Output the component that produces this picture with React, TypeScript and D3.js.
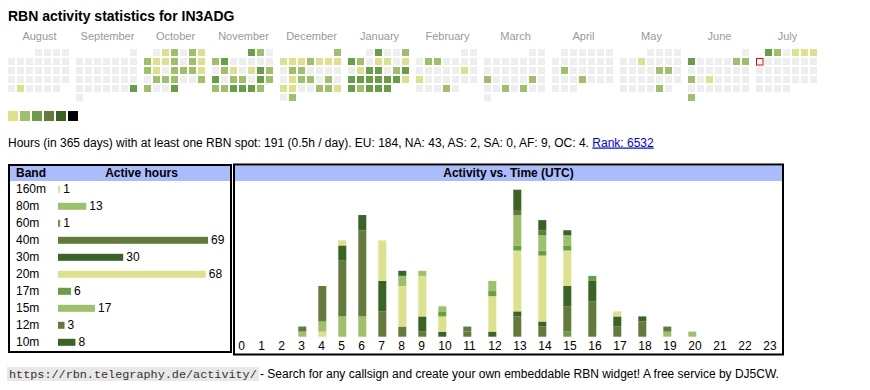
import React from "react";
import * as d3 from "d3";

const title = "RBN activity statistics for IN3ADG";
const monthNames = ["August", "September", "October", "November", "December", "January", "February", "March", "April", "May", "June", "July"];
const monthStarts = ["2024-08-01", "2024-09-01", "2024-10-01", "2024-11-01", "2024-12-01", "2025-01-01", "2025-02-01", "2025-03-01", "2025-04-01", "2025-05-01", "2025-06-01", "2025-07-01"];

// daily activity level per month (0 = none)
const aug24 = [0,0,0,0,0,0,0,0,0,0,0,0,0,0,0,0,0,0,0,0,0,0,0,0,0,0,1,0,0,0,0];
const sep24 = [0,0,0,0,0,0,0,0,0,0,0,0,0,0,0,0,0,0,0,0,0,0,0,0,0,0,0,0,3,0];
const oct24 = [0,1,2,0,2,1,2,1,1,2,0,2,1,2,1,0,2,2,2,1,0,2,2,2,0,0,2,2,0,0,3];
const nov24 = [3,2,0,2,3,0,0,0,0,0,0,2,1,0,1,3,2,3,0,2,2,0,3,2,2,2,3,3,3,2];
const dec24 = [2,1,1,1,2,1,1,1,0,2,2,0,0,0,0,0,1,2,2,0,2,0,1,1,0,0,2,2,1,0,2];
const jan25 = [0,3,0,0,2,3,2,0,1,1,0,1,0,1,3,3,0,2,3,3,3,3,3,3,3,1,3,2,3,3,3];
const feb25 = [0,0,0,2,2,0,0,0,0,0,0,0,0,0,1,0,1,0,0,0,0,0,0,0,0,0,2,0];
const mar25 = [0,0,0,0,0,0,0,0,0,0,0,0,0,0,0,0,2,0,0,0,0,2,0,0,0,2,0,2,0,0,0];
const apr25 = [0,0,0,0,0,0,0,0,0,0,0,0,0,0,2,0,0,0,0,0,0,0,0,2,0,0,0,0,0,0];
const may25 = [0,0,0,0,0,0,1,0,0,0,0,0,0,0,0,2,2,0,0,0,0,0,0,0,0,0,0,0,0,2,0];
const jun25 = [0,3,0,0,0,0,2,2,0,0,0,0,0,0,0,2,0,1,0,0,0,0,0,0,0,0,0,0,0,2];
const jul25 = [3,2,0,1,1,1,0,0,0,0,0,0,0,0,0,0,0,0,0,0,0,0,0,0,0,0,0,0,0,0,0];
const monthLevels = [aug24, sep24, oct24, nov24, dec24, jan25, feb25, mar25, apr25, may25, jun25, jul25];
const todayDate = "2025-07-07";

const levelColors = ["#eeeeee", "#dbe28b", "#9dc069", "#669f45", "#647a3b", "#3a6325", "#000000"];
const legendColors = ["#dbe28b", "#9dc069", "#669f45", "#647a3b", "#3a6325", "#000000"];

const summaryText = "Hours (in 365 days) with at least one RBN spot: 191 (0.5h / day). EU: 184, NA: 43, AS: 2, SA: 0, AF: 9, OC: 4. ";
const rankText = "Rank: 6532";
const footerUrl = "https://rbn.telegraphy.de/activity/";
const footerText = " - Search for any callsign and create your own embeddable RBN widget! A free service by DJ5CW.";

const bands = ["160m", "80m", "60m", "40m", "30m", "20m", "17m", "15m", "12m", "10m"];
const bandHours = [1, 13, 1, 69, 30, 68, 6, 17, 3, 8];
const bandColors = ["#dbe28b", "#9dc069", "#669f45", "#647a3b", "#3a6325", "#dbe28b", "#669f45", "#9dc069", "#647a3b", "#3a6325"];

const hourLabels = ["0","1","2","3","4","5","6","7","8","9","10","11","12","13","14","15","16","17","18","19","20","21","22","23"];
const h160 = [0,0,0,0,1,0,0,0,0,0,0,0,0,0,0,0,0,0,0,0,0,0,0,0];
const h80  = [0,0,0,1,2,4,4,0,0,0,0,0,0,0,0,0,0,0,0,1,1,0,0,0];
const h60  = [0,0,0,0,0,0,0,0,0,0,0,0,0,0,0,1,0,0,0,0,0,0,0,0];
const h40  = [0,0,0,1,7,11,17,5,2,1,0,1,0,4,2,5,7,2,3,1,0,0,0,0];
const h30  = [0,0,0,0,0,3,3,6,0,3,1,0,1,1,1,4,4,2,1,0,0,0,0,0];
const h20  = [0,0,0,0,0,1,0,8,8,8,3,0,7,12,13,7,0,1,0,0,0,0,0,0];
const h17  = [0,0,0,0,0,0,0,0,0,0,1,0,1,1,1,1,1,0,0,0,0,0,0,0];
const h15  = [0,0,0,0,0,0,0,0,2,1,1,0,2,6,3,2,0,0,0,0,0,0,0,0];
const h12  = [0,0,0,0,0,0,0,0,0,0,0,1,0,1,1,0,0,0,0,0,0,0,0,0];
const h10  = [0,0,0,0,0,0,0,0,1,0,0,0,0,4,2,1,0,0,0,0,0,0,0,0];
const hourlyByBand = [h160, h80, h60, h40, h30, h20, h17, h15, h12, h10];

const SANS = "'Liberation Sans', Arial, Helvetica, sans-serif";

export default function App() {
  const parse = d3.timeParse("%Y-%m-%d");
  const monthX = d3.scaleBand<string>().domain(monthNames).range([8, 8 + 68 * 12]);
  const dayX = d3.scaleBand<number>().domain(d3.range(7)).range([0, 63]);
  const weekY = d3.scaleBand<number>().domain(d3.range(6)).range([49, 49 + 54]);
  const today = parse(todayDate)!;

  const cells: { x: number; y: number; lvl: number; today: boolean }[] = [];
  monthStarts.forEach((ms, m) => {
    const start = parse(ms)!;
    monthLevels[m].forEach((lvl, i) => {
      const date = d3.timeDay.offset(start, i);
      const row = d3.timeMonday.count(start, date);
      const col = (date.getDay() + 6) % 7;
      cells.push({
        x: monthX(monthNames[m])! + dayX(col)!,
        y: weekY(row)!,
        lvl,
        today: +date === +today,
      });
    });
  });

  // band table
  const bandY = d3.scaleBand<string>().domain(bands).range([182, 182 + 170]);
  const bandX = d3.scaleLinear().domain([0, d3.max(bandHours)!]).range([0, 150]);

  // activity chart
  const colWidths = hourLabels.map((l) => (l.length > 1 ? 25 : 20));
  const lefts = colWidths.map((_, i) => 238.3 + d3.sum(colWidths.slice(0, i)));
  const hourX = d3.scaleOrdinal<string, number>().domain(hourLabels).range(lefts);
  const tableRows = hourLabels.map((_, h) => {
    const o: Record<string, number> = {};
    bands.forEach((b, bi) => (o[b] = hourlyByBand[bi][h]));
    return o;
  });
  const series = d3.stack<Record<string, number>>().keys(bands)(tableRows);
  const totals = hourLabels.map((_, h) => d3.sum(hourlyByBand, (a) => a[h]));
  const yAct = d3.scaleLinear().domain([0, d3.max(totals)!]).range([336.7, 189.7]);

  return (
    <div style={{ position: "absolute", left: 0, top: 0 }}>
      <svg width={870} height={390} style={{ display: "block", fontFamily: SANS }}>
        <rect width={870} height={390} fill="#ffffff" />
        <text x={8} y={20.5} fontSize={14} fontWeight="bold" fill="#000">{title}</text>

        {monthNames.map((m) => (
          <text key={m} x={monthX(m)! + 31.5} y={39.5} fontSize={11} fill="#999999" textAnchor="middle">{m}</text>
        ))}
        {cells.map((c, i) =>
          c.today ? (
            <rect key={i} x={c.x + 0.5} y={c.y + 0.5} width={6.5} height={6.5} fill="#ffffff" stroke="#ff0000" strokeWidth={1} />
          ) : (
            <rect key={i} x={c.x} y={c.y} width={7} height={7} fill={levelColors[c.lvl]} />
          )
        )}
        {legendColors.map((c, i) => (
          <rect key={i} x={8 + 12 * i} y={111} width={10} height={10} fill={c} />
        ))}

        <text x={8} y={146.5} fontSize={12} fill="#000">
          {summaryText}
          <tspan fill="#0000ee" style={{ textDecoration: "underline" }}>{rankText}</tspan>
        </text>

        {/* Band table */}
        <rect x={10} y={166} width={220} height={15} fill="#abbcfd" />
        <rect x={9} y={165} width={222} height={187} fill="none" stroke="#000" strokeWidth={2} />
        <text x={16} y={177} fontSize={12} fontWeight="bold">Band</text>
        <text x={141.5} y={177} fontSize={12} fontWeight="bold" textAnchor="middle">Active hours</text>
        {bands.map((b, i) => {
          const y0 = bandY(b)!;
          const w = bandX(bandHours[i]);
          return (
            <g key={b}>
              <text x={16} y={y0 + 11.3} fontSize={12}>{b}</text>
              <rect x={58} y={y0 + 3.8} width={w} height={7} fill={bandColors[i]} />
              <text x={58 + w + 3} y={y0 + 11.3} fontSize={12}>{bandHours[i]}</text>
            </g>
          );
        })}

        {/* Activity chart */}
        <rect x={235} y={165.5} width={547} height={15.5} fill="#abbcfd" />
        <rect x={234} y={164.5} width={549} height={190} fill="none" stroke="#000" strokeWidth={2} />
        <text x={508.5} y={177} fontSize={12} fontWeight="bold" textAnchor="middle">Activity vs. Time (UTC)</text>
        {series.map((s, bi) => (
          <g key={bands[bi]} fill={bandColors[bi]}>
            {s.map((d, h) =>
              d[1] > d[0] ? (
                <rect key={h} x={hourX(hourLabels[h])} y={yAct(d[1])} width={8} height={yAct(d[0]) - yAct(d[1])} />
              ) : null
            )}
          </g>
        ))}
        {hourLabels.map((l) => (
          <text key={l} x={hourX(l)} y={350} fontSize={12}>{l}</text>
        ))}

        {/* footer */}
        <rect x={7} y={367} width={252} height={14} fill="#e8e8e8" />
        <text x={9} y={378} fontSize={11.8} fontFamily="'Liberation Mono', 'Courier New', monospace" fill="#333">{footerUrl}</text>
        <text x={260} y={378} fontSize={12} fill="#000">{footerText}</text>
      </svg>
    </div>
  );
}
